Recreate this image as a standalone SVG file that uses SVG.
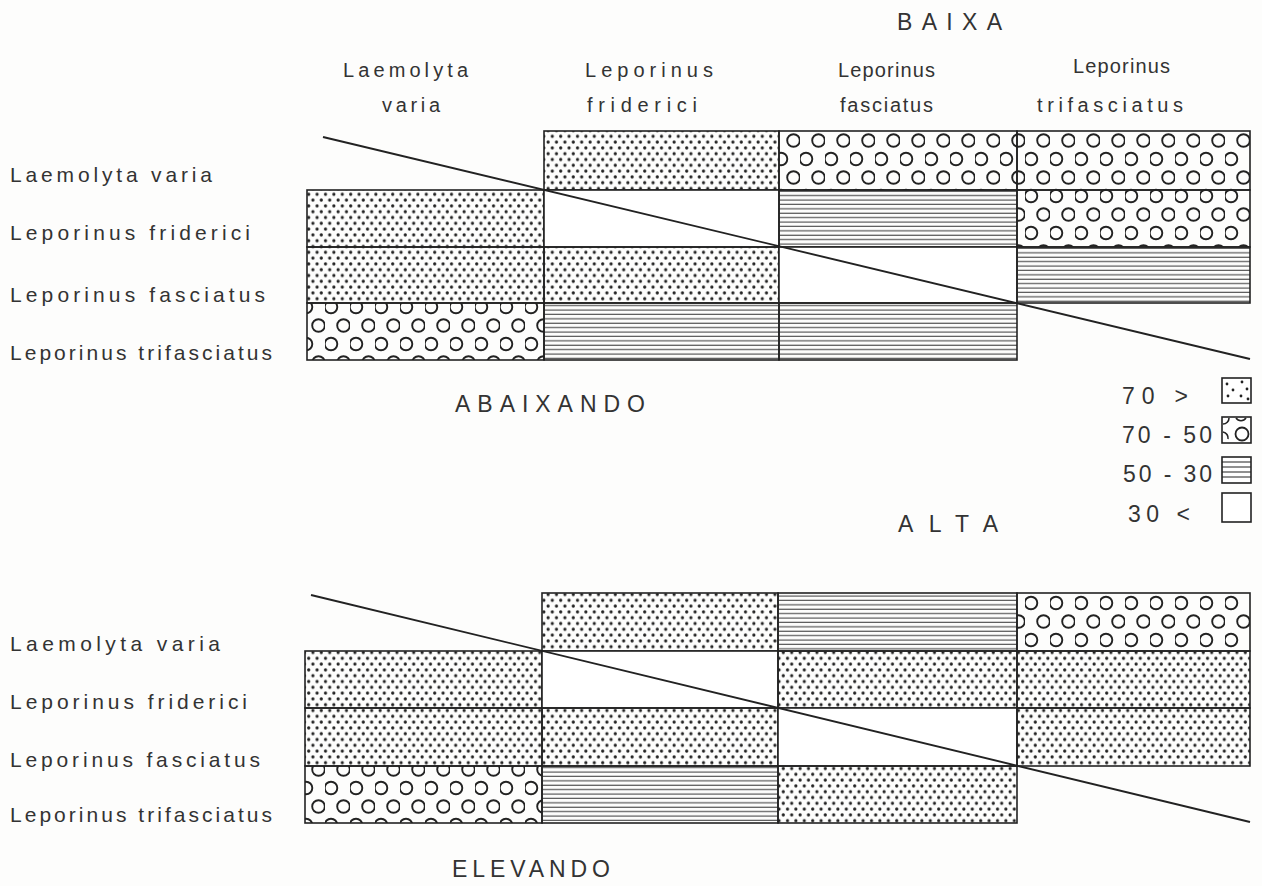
<svg xmlns="http://www.w3.org/2000/svg" width="1262" height="886" viewBox="0 0 1262 886">
<defs>
<pattern id="dots" patternUnits="userSpaceOnUse" width="8.4" height="11.6">
<circle cx="2.1" cy="2.9" r="1.6" fill="#222"/>
<circle cx="6.3" cy="8.7" r="1.6" fill="#222"/>
</pattern>
<pattern id="rings" patternUnits="userSpaceOnUse" width="25" height="37" x="0" y="3">
<circle cx="6" cy="8" r="6.3" fill="none" stroke="#222" stroke-width="1.9"/>
<circle cx="18.5" cy="26.5" r="6.3" fill="none" stroke="#222" stroke-width="1.9"/>
</pattern>
<pattern id="lines" patternUnits="userSpaceOnUse" width="20" height="4.4">
<line x1="0" y1="2" x2="20" y2="2" stroke="#333" stroke-width="1"/>
</pattern>
</defs>
<style>
.t{font-family:"Liberation Sans","DejaVu Sans",sans-serif;fill:#333;}
.lab{font-size:21px;}
.hd{font-size:20px;}
.big{font-size:23px;}
.cell{stroke:#222;stroke-width:1.6;}
.d{fill:url(#dots);}
.r{fill:url(#rings);}
.l{fill:url(#lines);}
.w{fill:#fff;}
.diag{stroke:#222;stroke-width:1.9;fill:none;}
</style>
<rect width="1262" height="886" fill="#fdfdfc"/>

<g id="titles">
<text class="t big" x="897" y="30" textLength="105" lengthAdjust="spacing">BAIXA</text>
<text class="t big" x="455" y="412" textLength="190" lengthAdjust="spacing">ABAIXANDO</text>
<text class="t big" x="898" y="532" textLength="100" lengthAdjust="spacing">ALTA</text>
<text class="t big" x="452" y="877" textLength="158" lengthAdjust="spacing">ELEVANDO</text>
</g>

<g id="column-headers">
<text class="t hd" x="343" y="77" textLength="125" lengthAdjust="spacing">Laemolyta</text>
<text class="t hd" x="382" y="112" textLength="58" lengthAdjust="spacing">varia</text>
<text class="t hd" x="585" y="77" textLength="128" lengthAdjust="spacing">Leporinus</text>
<text class="t hd" x="587" y="112" textLength="110" lengthAdjust="spacing">friderici</text>
<text class="t hd" x="838" y="77" textLength="97" lengthAdjust="spacing">Leporinus</text>
<text class="t hd" x="840" y="112" textLength="93" lengthAdjust="spacing">fasciatus</text>
<text class="t hd" x="1073" y="73" textLength="97" lengthAdjust="spacing">Leporinus</text>
<text class="t hd" x="1037" y="112" textLength="146" lengthAdjust="spacing">trifasciatus</text>
</g>

<g id="row-labels-top">
<text class="t lab" x="10" y="182" textLength="202" lengthAdjust="spacing">Laemolyta  varia</text>
<text class="t lab" x="10" y="240" textLength="240" lengthAdjust="spacing">Leporinus  friderici</text>
<text class="t lab" x="10" y="302" textLength="255" lengthAdjust="spacing">Leporinus  fasciatus</text>
<text class="t lab" x="10" y="360" textLength="262" lengthAdjust="spacing">Leporinus  trifasciatus</text>
</g>

<g id="row-labels-bottom">
<text class="t lab" x="10" y="651" textLength="210" lengthAdjust="spacing">Laemolyta   varia</text>
<text class="t lab" x="10" y="709" textLength="237" lengthAdjust="spacing">Leporinus  friderici</text>
<text class="t lab" x="10" y="767" textLength="250" lengthAdjust="spacing">Leporinus  fasciatus</text>
<text class="t lab" x="10" y="822" textLength="262" lengthAdjust="spacing">Leporinus  trifasciatus</text>
</g>

<g id="grid-top">
<rect class="cell d" x="544" y="131" width="235" height="59"/>
<rect class="cell r" x="779" y="131" width="238" height="59"/>
<rect class="cell r" x="1017" y="131" width="233" height="59"/>
<rect class="cell d" x="307" y="190" width="237" height="57"/>
<rect class="cell w" x="544" y="190" width="235" height="57"/>
<rect class="cell l" x="779" y="190" width="238" height="57"/>
<rect class="cell r" x="1017" y="190" width="233" height="57"/>
<rect class="cell d" x="307" y="247" width="237" height="56"/>
<rect class="cell d" x="544" y="247" width="235" height="56"/>
<rect class="cell w" x="779" y="247" width="238" height="56"/>
<rect class="cell l" x="1017" y="247" width="233" height="56"/>
<rect class="cell r" x="307" y="303" width="237" height="57"/>
<rect class="cell l" x="544" y="303" width="235" height="57"/>
<rect class="cell l" x="779" y="303" width="238" height="57"/>
</g>

<g id="grid-bottom">
<rect class="cell d" x="542" y="593" width="236" height="58"/>
<rect class="cell l" x="778" y="593" width="239" height="58"/>
<rect class="cell r" x="1017" y="593" width="233" height="58"/>
<rect class="cell d" x="305" y="651" width="237" height="57"/>
<rect class="cell w" x="542" y="651" width="236" height="57"/>
<rect class="cell d" x="778" y="651" width="239" height="57"/>
<rect class="cell d" x="1017" y="651" width="233" height="57"/>
<rect class="cell d" x="305" y="708" width="237" height="58"/>
<rect class="cell d" x="542" y="708" width="236" height="58"/>
<rect class="cell w" x="778" y="708" width="239" height="58"/>
<rect class="cell d" x="1017" y="708" width="233" height="58"/>
<rect class="cell r" x="305" y="766" width="237" height="57"/>
<rect class="cell l" x="542" y="766" width="236" height="57"/>
<rect class="cell d" x="778" y="766" width="239" height="57"/>
</g>

<g id="connectors">
<line class="diag" x1="323" y1="137" x2="1250" y2="359"/>
<line class="diag" x1="311" y1="595" x2="1250" y2="822"/>
</g>

<g id="legend">
<text class="t big" x="1122" y="404" textLength="66" lengthAdjust="spacing">70 &gt;</text>
<text class="t big" x="1122" y="443" textLength="90" lengthAdjust="spacing">70 - 50</text>
<text class="t big" x="1123" y="482" textLength="89" lengthAdjust="spacing">50 - 30</text>
<text class="t big" x="1128" y="522" textLength="62" lengthAdjust="spacing">30 &lt;</text>
<g id="legend-dots">
<rect x="1222" y="378" width="29" height="25" fill="#fff" stroke="#222" stroke-width="1.6"/>
<g fill="#222">
<circle cx="1227" cy="384" r="1.4"/><circle cx="1242" cy="382" r="1.4"/>
<circle cx="1233" cy="390" r="1.4"/><circle cx="1247" cy="389" r="1.4"/>
<circle cx="1228" cy="396" r="1.4"/><circle cx="1241" cy="396" r="1.4"/>
<circle cx="1248" cy="399" r="1.4"/>
</g>
</g>
<g id="legend-rings">
<rect x="1222" y="417" width="29" height="26" fill="#fff" stroke="#222" stroke-width="1.6"/>
<circle cx="1242" cy="434" r="6.5" fill="none" stroke="#222" stroke-width="1.8"/>
<path d="M1223 424 A6 6 0 0 0 1229 418 M1223 432 A6 6 0 0 1 1228 439 M1236 418 A6 6 0 0 0 1246 418" fill="none" stroke="#222" stroke-width="1.6"/>
</g>
<g id="legend-lines">
<rect x="1222" y="457" width="29" height="26" fill="#fff" stroke="#222" stroke-width="1.6"/>
<path d="M1222 462 H1251 M1222 467 H1251 M1222 472 H1251 M1222 477 H1251" stroke="#222" stroke-width="1.2"/>
</g>
<g id="legend-empty">
<rect x="1222" y="493" width="29" height="29" fill="#fff" stroke="#222" stroke-width="1.6"/>
</g>
</g>
</svg>
